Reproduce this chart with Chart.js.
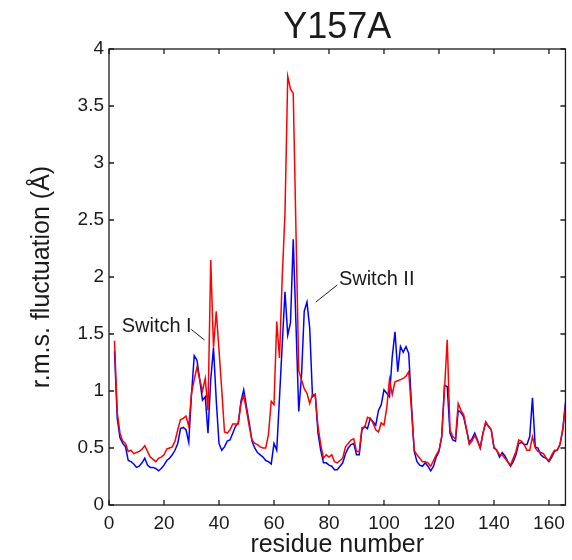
<!DOCTYPE html>
<html>
<head>
<meta charset="utf-8">
<script src="https://cdn.jsdelivr.net/npm/chart.js@4.4.0/dist/chart.umd.min.js"></script>
<style>
  html, body { margin: 0; padding: 0; background: #fff; }
  #wrap { width: 572px; height: 560px; }
</style>
</head>
<body>
<div id="wrap"><canvas id="rmsf"></canvas></div>
<script>
// Y157A - r.m.s. fluctuation per residue
const residues = Array.from({ length: 165 }, (_, i) => i + 2);

const y157a = [
  1.44, 0.81, 0.63, 0.56, 0.54, 0.47, 0.48, 0.45, 0.46, 0.47,
  0.49, 0.52, 0.47, 0.42, 0.40, 0.38, 0.41, 0.42, 0.44, 0.49,
  0.50, 0.51, 0.56, 0.66, 0.75, 0.76, 0.78, 0.69, 0.98, 1.10,
  1.21, 1.10, 1.00, 1.11, 0.83, 2.15, 1.38, 1.70, 1.36, 1.01,
  0.64, 0.63, 0.66, 0.71, 0.71, 0.71, 0.89, 0.96, 0.83, 0.69,
  0.57, 0.54, 0.53, 0.51, 0.50, 0.50, 0.62, 0.91, 0.88, 1.61,
  1.29, 2.00, 2.56, 3.76, 3.65, 3.61, 2.40, 1.18, 1.10, 1.02,
  0.98, 0.89, 0.97, 0.97, 0.69, 0.53, 0.41, 0.44, 0.42, 0.44,
  0.38, 0.37, 0.39, 0.41, 0.51, 0.54, 0.57, 0.58, 0.47, 0.47,
  0.68, 0.68, 0.77, 0.76, 0.72, 0.66, 0.64, 0.72, 0.70, 0.85,
  1.10, 0.97, 1.08, 1.09, 1.10, 1.11, 1.13, 1.17, 0.83, 0.48,
  0.44, 0.41, 0.38, 0.38, 0.37, 0.34, 0.39, 0.44, 0.48, 0.60,
  1.01, 1.45, 0.66, 0.60, 0.58, 0.89, 0.83, 0.79, 0.67, 0.53,
  0.56, 0.61, 0.56, 0.50, 0.63, 0.73, 0.69, 0.66, 0.51, 0.48,
  0.44, 0.44, 0.41, 0.38, 0.35, 0.41, 0.47, 0.57, 0.56, 0.53,
  0.48, 0.48, 0.60, 0.50, 0.47, 0.46, 0.45, 0.41, 0.39, 0.44,
  0.48, 0.48, 0.53, 0.66, 0.86
];

const wildtype = [
  1.35, 0.76, 0.59, 0.54, 0.51, 0.39, 0.38, 0.36, 0.33, 0.34,
  0.37, 0.41, 0.35, 0.33, 0.33, 0.32, 0.30, 0.32, 0.35, 0.39,
  0.41, 0.44, 0.48, 0.54, 0.67, 0.68, 0.66, 0.55, 0.97, 1.31,
  1.27, 1.10, 0.92, 0.95, 0.63, 1.10, 1.38, 0.92, 0.54, 0.48,
  0.51, 0.56, 0.57, 0.63, 0.69, 0.72, 0.91, 1.01, 0.86, 0.72,
  0.56, 0.50, 0.46, 0.44, 0.42, 0.39, 0.38, 0.36, 0.54, 0.48,
  0.94, 1.41, 1.87, 1.49, 1.60, 2.33, 1.58, 0.82, 1.13, 1.70,
  1.78, 1.55, 0.95, 0.97, 0.63, 0.48, 0.37, 0.37, 0.35, 0.34,
  0.31, 0.31, 0.34, 0.37, 0.45, 0.50, 0.53, 0.54, 0.44, 0.44,
  0.66, 0.69, 0.67, 0.76, 0.73, 0.70, 0.83, 0.88, 1.01, 0.98,
  0.95, 1.30, 1.52, 1.17, 1.39, 1.34, 1.39, 1.33, 0.88, 0.47,
  0.38, 0.35, 0.34, 0.37, 0.34, 0.30, 0.34, 0.42, 0.47, 0.60,
  1.05, 1.04, 0.63, 0.57, 0.56, 0.83, 0.81, 0.77, 0.66, 0.55,
  0.58, 0.63, 0.57, 0.50, 0.63, 0.72, 0.69, 0.66, 0.50, 0.48,
  0.42, 0.46, 0.43, 0.38, 0.34, 0.38, 0.44, 0.54, 0.55, 0.53,
  0.53, 0.60, 0.94, 0.51, 0.50, 0.44, 0.42, 0.41, 0.38, 0.42,
  0.47, 0.48, 0.53, 0.66, 0.90
];

const xTicks = [0, 20, 40, 60, 80, 100, 120, 140, 160];
const yTicks = [0, 0.5, 1, 1.5, 2, 2.5, 3, 3.5, 4];

const FONT = '"Liberation Sans", Arial, Helvetica, sans-serif';
const INK = '#1a1a1a';

function toPoints(vals) {
  return residues.map((r, i) => ({ x: r, y: vals[i] }));
}

// box, inward ticks, title and the two switch labels
const frame = {
  id: 'frame',
  afterDraw(chart) {
    const { ctx, chartArea: a, scales: { x, y } } = chart;
    ctx.save();
    ctx.strokeStyle = INK;
    ctx.lineWidth = 1.3;
    ctx.strokeRect(a.left, a.top, a.right - a.left, a.bottom - a.top);
    ctx.beginPath();
    xTicks.forEach(v => {
      const px = x.getPixelForValue(v);
      ctx.moveTo(px, a.bottom); ctx.lineTo(px, a.bottom - 5);
      ctx.moveTo(px, a.top); ctx.lineTo(px, a.top + 5);
    });
    yTicks.forEach(v => {
      const py = y.getPixelForValue(v);
      ctx.moveTo(a.left, py); ctx.lineTo(a.left + 5, py);
      ctx.moveTo(a.right, py); ctx.lineTo(a.right - 5, py);
    });
    ctx.stroke();

    ctx.fillStyle = INK;
    ctx.font = '36px ' + FONT;
    ctx.textAlign = 'center';
    ctx.textBaseline = 'alphabetic';
    ctx.fillText('Y157A', (a.left + a.right) / 2, 38);

    const notes = [
      { text: 'Switch I', at: [4.6, 1.52], line: [[29.9, 1.54], [34.75, 1.447]] },
      { text: 'Switch II', at: [83.6, 1.934], line: [[83.0, 1.93], [75.2, 1.78]] }
    ];
    ctx.font = '20px ' + FONT;
    ctx.textAlign = 'left';
    ctx.lineWidth = 1;
    notes.forEach(n => {
      ctx.fillText(n.text, x.getPixelForValue(n.at[0]), y.getPixelForValue(n.at[1]));
      ctx.beginPath();
      ctx.moveTo(x.getPixelForValue(n.line[0][0]), y.getPixelForValue(n.line[0][1]));
      ctx.lineTo(x.getPixelForValue(n.line[1][0]), y.getPixelForValue(n.line[1][1]));
      ctx.stroke();
    });
    ctx.restore();
  }
};

new Chart(document.getElementById('rmsf'), {
  type: 'line',
  data: {
    datasets: [
      { label: 'Y157A', data: toPoints(y157a), borderColor: '#ff0000', borderWidth: 1.5, pointRadius: 0, tension: 0 },
      { label: 'WT', data: toPoints(wildtype), borderColor: '#0000ff', borderWidth: 1.5, pointRadius: 0, tension: 0 }
    ]
  },
  options: {
    responsive: true,
    maintainAspectRatio: false,
    animation: false,
    devicePixelRatio: 1,
    layout: { padding: { top: 49, right: 5, left: 0, bottom: 0 } },
    plugins: { legend: { display: false }, tooltip: { enabled: false } },
    scales: {
      x: {
        type: 'linear', min: 0, max: 166,
        afterBuildTicks: s => { s.ticks = xTicks.map(v => ({ value: v })); },
        afterFit: s => { s.height = 55; },
        grid: { display: false, drawTicks: false },
        border: { display: false },
        ticks: { padding: 7, color: INK, font: { family: FONT, size: 19 }, maxRotation: 0, callback: v => String(v) },
        title: { display: true, text: 'residue number', color: INK, font: { family: FONT, size: 25 }, padding: { top: 0, bottom: 0 } }
      },
      y: {
        type: 'linear', min: 0, max: 4,
        afterBuildTicks: s => { s.ticks = yTicks.map(v => ({ value: v })); },
        afterFit: s => { s.width = 109; },
        grid: { display: false, drawTicks: false },
        border: { display: false },
        ticks: { padding: 5, color: INK, font: { family: FONT, size: 19 }, callback: v => String(v) },
        title: { display: true, text: 'r.m.s. fluctuation (Å)', color: INK, font: { family: FONT, size: 25 }, padding: { top: 27, bottom: 0 } }
      }
    }
  },
  plugins: [frame]
});
</script>
</body>
</html>
